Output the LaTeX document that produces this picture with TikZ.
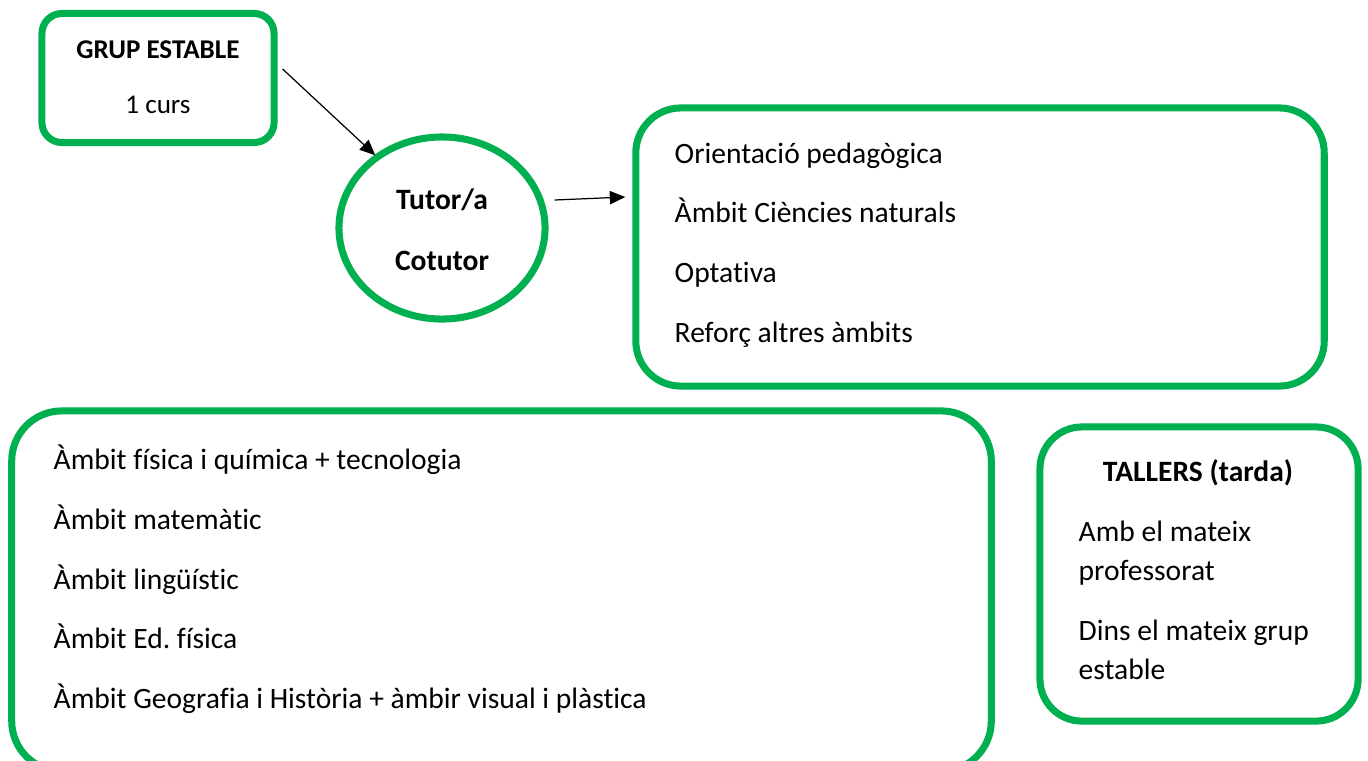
\documentclass[tikz,border=0pt]{standalone}
\usepackage{fontspec}
\setmainfont{Carlito}[Ligatures=NoCommon]
\usetikzlibrary{shapes.geometric,arrows.meta,calc}
\definecolor{grn}{HTML}{00B050}
\begin{document}
\frenchspacing
\fontsize{8.4pt}{11pt}\selectfont
\begin{tikzpicture}[x=0.01cm,y=-0.01cm,
    box/.style={draw=grn,line width=2pt,rounded corners=#1},
    box/.default=0.2cm,
    txt/.style={anchor=base west,inner sep=0pt},
    ctxt/.style={anchor=base,inner sep=0pt},
    small/.style={font=\fontsize{7.7pt}{9pt}\selectfont},
    arr/.style={-{Triangle[length=4.4pt,width=3.8pt]},line width=0.35pt}]
    \clip (0,0) rectangle (1368,760);
    \node[box,minimum width=2.32cm,minimum height=1.29cm] (grup) at (158,78) {};
    \node[ctxt,small] (grupt) at (158,58) {\bfseries GRUP ESTABLE};
    \node[ctxt,small] (curs) at (158,113) {1 curs};
    \node[draw=grn,line width=2pt,ellipse,minimum width=2.06cm,minimum height=1.82cm] (tutor) at (442,228) {};
    \node[ctxt,font=\bfseries] (tut1) at (442,209) {Tutor/a};
    \node[ctxt,font=\bfseries] (tut2) at (442,270) {Cotutor};
    \node[box=0.45cm,minimum width=6.88cm,minimum height=2.78cm] (orient) at (980,247) {};
    \node[txt] (o1) at (674,163) {Orientació pedagògica};
    \node[txt] (o2) at (674,222) {Àmbit Ciències naturals};
    \node[txt] (o3) at (674,282) {Optativa};
    \node[txt] (o4) at (674,342) {Reforç altres àmbits};
    \node[box=0.5cm,minimum width=9.79cm,minimum height=3.6cm] (ambits) at (501.5,591) {};
    \node[txt] (a1) at (53,469) {Àmbit física i química + tecnologia};
    \node[txt] (a2) at (53,529) {Àmbit matemàtic};
    \node[txt] (a3) at (53,589) {Àmbit lingüístic};
    \node[txt] (a4) at (53,648) {Àmbit Ed. física};
    \node[txt] (a5) at (53,708) {Àmbit Geografia i Història + àmbir visual i plàstica};
    \node[box=0.42cm,minimum width=3.18cm,minimum height=2.94cm] (tallers) at (1199,574) {};
    \node[ctxt,font=\bfseries] (tal) at (1198,481) {TALLERS (tarda)};
    \node[txt] (t1) at (1078,541) {Amb el mateix};
    \node[txt] (t2) at (1078,580) {professorat};
    \node[txt] (t3) at (1078,640) {Dins el mateix grup};
    \node[txt] (t4) at (1078,679) {estable};
    % arrows
    \draw[arr] ($(grup.east)+(5,-9)$) -- ($(tutor.135)+(4,-2)$);
    \draw[arr] ($(tutor.east)+(6,-28)$) -- ($(orient.west)+(-7,-50)$);
\end{tikzpicture}
\end{document}
